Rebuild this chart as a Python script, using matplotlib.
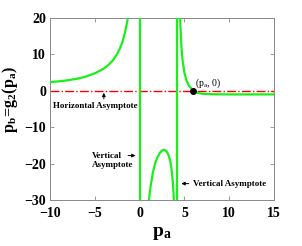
import numpy as np
import matplotlib
matplotlib.use("Agg")
import matplotlib.pyplot as plt

plt.rcParams['font.family'] = ['Liberation Serif', 'DejaVu Serif']
plt.rcParams['mathtext.fontset'] = 'custom'
plt.rcParams['mathtext.rm'] = 'Liberation Serif'
plt.rcParams['mathtext.it'] = 'Liberation Serif'
plt.rcParams['mathtext.bf'] = 'Liberation Serif:bold'

# branch left of p_a = 0
x_left = [-10, -9, -8, -7, -6, -5, -4, -3.5, -3, -2.5, -2.2, -2, -1.8, -1.6, -1.45, -1.33, -1.25]
y_left = [2.4, 2.6, 2.9, 3.3, 3.9, 4.8, 6.1, 7.05, 8.3, 10.15, 11.65, 12.9, 14.45, 16.4, 18.2, 19.9, 21.3]

# branch between the two vertical asymptotes
x_mid = [1.0, 1.1, 1.25, 1.5, 1.75, 2.0, 2.25, 2.5, 2.75, 3.0, 3.2, 3.4, 3.55, 3.7, 3.8, 3.85]
y_mid = [-31.2, -28.7, -25.8, -22.2, -19.8, -18.2, -17.1, -16.4, -16.2, -16.6, -17.5, -19.1, -21.2, -24.9, -28.9, -31.9]

# branch right of the second asymptote
x_right = [4.5, 4.55, 4.6, 4.7, 4.8, 5.0, 5.25, 5.5, 6.0, 6.5, 7, 8, 9, 10, 11, 12, 13, 14, 15]
y_right = [22.2, 18.2, 15.2, 11.1, 8.3, 5.0, 2.7, 1.4, 0.0, -0.6, -0.82, -0.93, -0.98, -1.0, -1.0, -1.0, -1.0, -1.0, -1.0]

v_asym = [0, 4.2]
h_asym = 0
root = (6.0, 0.0)

fig = plt.figure(figsize=(3.02, 2.46), dpi=100)
ax = fig.add_axes([0.166, 0.187, 0.741, 0.740])

green = '#19f019'
ax.axhline(h_asym, color='red', lw=1.0, ls='-.', zorder=2)
for v in v_asym:
    ax.axvline(v, color=green, lw=1.6, zorder=3)
ax.plot(x_left, y_left, color=green, lw=1.6, zorder=3)
ax.plot(x_mid, y_mid, color=green, lw=1.6, zorder=3)
ax.plot(x_right, y_right, color=green, lw=1.6, zorder=3)
ax.plot([root[0]], [root[1]], 'o', color='black', ms=4, zorder=4)
ax.text(6.2, 1.3, r'$(\mathrm{p_a},\,0)$', fontsize=7)

ax.set_xlim(-10, 15)
ax.set_ylim(-30, 20)
ax.set_xticks([-10, -5, 0, 5, 10, 15])
ax.set_yticks([-30, -20, -10, 0, 10, 20])
ax.tick_params(direction='in', top=True, right=True, length=3, width=0.6,
               labelsize=10, color='#888888', pad=3)
ax.tick_params(axis='x', pad=5)
for lab in ax.get_xticklabels() + ax.get_yticklabels():
    lab.set_fontweight('bold')
for s in ax.spines.values():
    s.set_color('#888888')
    s.set_linewidth(0.7)

ax.set_xlabel(r'$\mathbf{p_a}$', fontsize=14, labelpad=4)
ax.set_ylabel(r'$\mathbf{p_b\!=\!g_2(p_a)}$', fontsize=11.5)
ax.yaxis.set_label_coords(-0.135, 0.55)

# annotations
ax.annotate('', xy=(-4.0, 0.2), xytext=(-4.0, -3.0),
            arrowprops=dict(arrowstyle='-|>', color='black', lw=0.7, mutation_scale=5))
ax.text(-5.0, -4.3, 'Horizontal Asymptote', fontsize=6.5, fontweight='bold',
        ha='center', va='center')

ax.text(-5.3, -17.8, 'Vertical', fontsize=6.5, fontweight='bold', ha='left', va='center')
ax.text(-5.3, -20.5, 'Asymptote', fontsize=6.5, fontweight='bold', ha='left', va='center')
ax.annotate('', xy=(-0.15, -17.8), xytext=(-1.6, -17.8),
            arrowprops=dict(arrowstyle='-|>', color='black', lw=0.7, mutation_scale=5))

ax.annotate('', xy=(4.35, -25.5), xytext=(5.8, -25.5),
            arrowprops=dict(arrowstyle='-|>', color='black', lw=0.7, mutation_scale=5))
ax.text(6.0, -25.5, 'Vertical Asymptote', fontsize=6.5, fontweight='bold',
        ha='left', va='center')

fig.savefig('out.png', dpi=100)
